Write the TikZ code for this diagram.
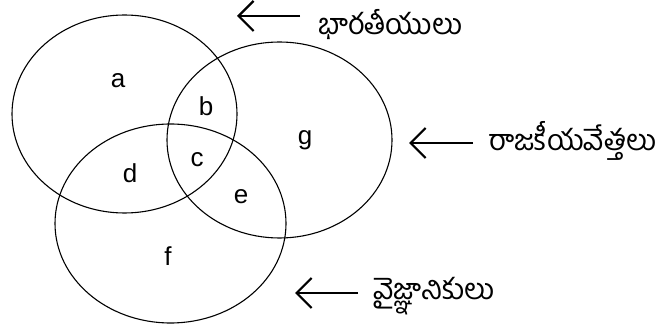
\documentclass[tikz,border=0pt]{standalone}
\usepackage{fontspec}
\setmainfont{Liberation Sans}
\newfontfamily\telugu[Script=Telugu]{Hind Guntur}
\usetikzlibrary{shapes.geometric,arrows.meta}
\begin{document}
\begin{tikzpicture}[x=1pt,y=-1pt,
  setel/.style={draw, ellipse, line width=1.1pt, inner sep=0pt},
  lbl/.style={font=\fontsize{26}{26}\selectfont, inner sep=0pt},
  tel/.style={font=\telugu\fontsize{29}{29}\selectfont, anchor=west, inner sep=0pt},
  arr/.style={line width=2.6pt, -{Straight Barb[length=15pt,width=30pt,line width=2.2pt]}}]
\useasboundingbox (0,0) rectangle (661,328);
\node[setel, minimum width=225pt, minimum height=198pt] (A) at (124.5,114) {};
\node[setel, minimum width=225pt, minimum height=196pt] (G) at (279.5,140) {};
\node[setel, minimum width=231pt, minimum height=199pt] (F) at (170.5,223.5) {};
\node[lbl] (la) at (118,81) {a};
\node[lbl] (lb) at (206,106) {b};
\node[lbl] (lc) at (197,160) {c};
\node[lbl] (ld) at (130,173) {d};
\node[lbl] (le) at (241,197) {e};
\node[lbl] (lg) at (305,140) {g};
\node[lbl] (lf) at (168,256) {f};
\node[tel] (t1) at (318,25) {భారతీయులు};
\node[tel] (t2) at (488,141) {రాజకీయవేత్తలు};
\node[tel] (t3) at (373,296) {వైజ్ఞానికులు};
\coordinate (s1) at (300,16); \coordinate (e1) at (237,16);
\coordinate (s2) at (473,143); \coordinate (e2) at (409,143);
\coordinate (s3) at (358,293); \coordinate (e3) at (295,293);
\draw[arr] (s1) -- (e1);
\draw[arr] (s2) -- (e2);
\draw[arr] (s3) -- (e3);
\end{tikzpicture}
\end{document}
